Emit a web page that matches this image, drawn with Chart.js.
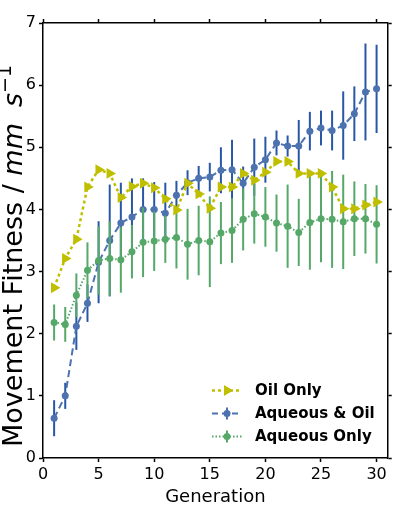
<!DOCTYPE html>
<html>
<head>
<meta charset="utf-8">
<script src="https://cdn.jsdelivr.net/npm/chart.js@4.4.1/dist/chart.umd.min.js"></script>
<style>
  html, body { margin: 0; padding: 0; background: #fff; }
  #wrap { width: 394px; height: 508px; }
</style>
</head>
<body>
<div id="wrap"><canvas id="fitChart" width="394" height="508"></canvas></div>
<script>
const generations = [1,2,3,4,5,6,7,8,9,10,11,12,13,14,15,16,17,18,19,20,21,22,23,24,25,26,27,28,29,30];
const oilOnly = [2.74,3.21,3.52,4.36,4.64,4.58,4.19,4.37,4.42,4.35,4.17,3.99,4.42,4.25,4.02,4.36,4.36,4.58,4.47,4.60,4.77,4.77,4.58,4.58,4.58,4.36,4.01,4.01,4.07,4.12];
const aqueousOil = [0.64,1.00,2.12,2.49,3.15,3.50,3.78,3.88,4.00,4.00,3.94,4.23,4.43,4.50,4.52,4.63,4.64,4.42,4.68,4.80,5.07,5.02,5.02,5.26,5.31,5.27,5.35,5.54,5.89,5.94];
const aqueousOilErr = [0.29,0.21,0.38,0.30,0.66,0.90,0.65,0.62,0.50,0.44,0.49,0.23,0.20,0.20,0.23,0.37,0.48,0.27,0.46,0.37,0.20,0.17,0.42,0.31,0.28,0.32,0.55,0.44,0.78,0.71];
const aqueousOnly = [2.18,2.15,2.62,3.02,3.18,3.21,3.19,3.32,3.47,3.49,3.52,3.55,3.44,3.50,3.48,3.62,3.66,3.84,3.93,3.88,3.78,3.73,3.63,3.79,3.85,3.84,3.80,3.85,3.85,3.76];
const aqueousOnlyErr = [0.29,0.28,0.35,0.45,0.55,0.60,0.53,0.43,0.56,0.48,0.38,0.50,0.57,0.56,0.73,0.50,0.52,0.50,0.48,0.48,0.46,0.67,0.54,0.76,0.70,0.78,0.76,0.60,0.56,0.63];
const xTicks = [0,5,10,15,20,25,30];
const seriesNames = ['Oil Only', 'Aqueous & Oil', 'Aqueous Only'];

const OIL = '#bfbf00', BLUE = '#4c72b0', GREEN = '#55a868';
const FONT = "'DejaVu Sans', sans-serif";

function pts(vals){ return generations.map((g, i) => ({ x: g, y: vals[i] })); }

// vertical error bars, drawn under each dataset's own line/markers
const errorBars = {
  id: 'errorBars',
  beforeDatasetDraw(chart, args) {
    const ds = chart.data.datasets[args.index];
    if (!ds.errors) return;
    const ctx = chart.ctx, x = chart.scales.x, y = chart.scales.y;
    ctx.save();
    ctx.strokeStyle = ds.errorColor || ds.borderColor;
    ctx.lineWidth = 2;
    ds.data.forEach((p, i) => {
      const e = ds.errors[i];
      const px = x.getPixelForValue(p.x);
      ctx.beginPath();
      ctx.moveTo(px, y.getPixelForValue(p.y - e));
      ctx.lineTo(px, y.getPixelForValue(p.y + e));
      ctx.stroke();
    });
    ctx.restore();
  }
};

// y label with the mathtext unit part
const yLabel = {
  id: 'yLabel',
  afterDraw(chart) {
    const ctx = chart.ctx;
    ctx.save();
    ctx.translate(22, 447);
    ctx.rotate(-Math.PI / 2);
    ctx.fillStyle = '#000';
    ctx.textBaseline = 'alphabetic';
    ctx.textAlign = 'left';
    let cx = 0;
    const part = (txt, font, dy) => {
      ctx.font = font;
      ctx.fillText(txt, cx, dy || 0);
      cx += ctx.measureText(txt).width;
    };
    part('Movement Fitness / ', '27px ' + FONT);
    part('mm', 'italic 27px ' + FONT);
    cx += 16;
    part('s', 'italic 27px ' + FONT);
    part('\u22121', '19px ' + FONT, -11);
    ctx.restore();
  }
};

// legend in the lower right of the plot
const legendBox = {
  id: 'legendBox',
  afterDraw(chart) {
    const ctx = chart.ctx;
    const rows = [
      { name: seriesNames[0], color: OIL, dash: [3, 3], width: 2.5, tri: true },
      { name: seriesNames[1], color: BLUE, dash: [6, 4], width: 2, tri: false },
      { name: seriesNames[2], color: GREEN, dash: [1.5, 2], width: 2, tri: false }
    ];
    const ys = [390.5, 413.5, 436.5];
    rows.forEach((r, i) => {
      const yy = ys[i];
      ctx.save();
      ctx.strokeStyle = r.color;
      ctx.lineWidth = r.width;
      ctx.setLineDash(r.dash);
      ctx.beginPath();
      ctx.moveTo(212, yy);
      ctx.lineTo(242, yy);
      ctx.stroke();
      ctx.setLineDash([]);
      ctx.fillStyle = r.color;
      if (r.tri) {
        Chart.helpers.drawPoint(ctx, { pointStyle: 'triangle', radius: 6, rotation: 90, borderWidth: 0 }, 227, yy);
        ctx.fill();
      } else {
        ctx.lineWidth = 2;
        ctx.beginPath();
        ctx.moveTo(227, yy - 6);
        ctx.lineTo(227, yy + 6);
        ctx.stroke();
        ctx.beginPath();
        ctx.arc(227, yy, 3.5, 0, Math.PI * 2);
        ctx.fill();
      }
      ctx.fillStyle = '#000';
      ctx.font = 'bold 15px ' + FONT;
      ctx.textBaseline = 'middle';
      ctx.fillText(r.name, 255, yy + 1);
      ctx.restore();
    });
  }
};

const axisGrid = { display: true, drawOnChartArea: false, drawTicks: true, tickLength: 4, tickWidth: 1.5, tickColor: '#000' };
const axisBorder = { display: true, color: '#000', width: 1.5 };
const setXTicks = s => { s.ticks = xTicks.map(v => ({ value: v })); };

new Chart(document.getElementById('fitChart').getContext('2d'), {
  type: 'line',
  data: {
    datasets: [
      {
        label: seriesNames[0], data: pts(oilOnly), order: 0,
        borderColor: OIL, backgroundColor: OIL, borderWidth: 2.5, borderDash: [3, 3],
        pointStyle: 'triangle', pointRotation: 90, pointRadius: 6.3, pointBorderWidth: 0,
        pointBackgroundColor: OIL, tension: 0, fill: false
      },
      {
        label: seriesNames[1], data: pts(aqueousOil), order: 2, errors: aqueousOilErr, errorColor: '#2857a6',
        borderColor: BLUE, backgroundColor: BLUE, borderWidth: 2, borderDash: [7, 4],
        pointStyle: 'circle', pointRadius: 3.5, pointBorderWidth: 0,
        pointBackgroundColor: BLUE, tension: 0, fill: false
      },
      {
        label: seriesNames[2], data: pts(aqueousOnly), order: 1, errors: aqueousOnlyErr,
        borderColor: GREEN, backgroundColor: GREEN, borderWidth: 2, borderDash: [1.5, 2],
        pointStyle: 'circle', pointRadius: 3.5, pointBorderWidth: 0,
        pointBackgroundColor: GREEN, tension: 0, fill: false
      }
    ]
  },
  options: {
    responsive: false,
    maintainAspectRatio: false,
    animation: false,
    devicePixelRatio: 1,
    layout: { padding: 0 },
    plugins: { legend: { display: false }, tooltip: { enabled: false } },
    scales: {
      x: {
        type: 'linear', position: 'bottom', min: 0, max: 31,
        afterBuildTicks: setXTicks,
        afterFit: s => { s.height = 50; },
        ticks: { color: '#000', font: { family: FONT, size: 16 }, padding: 3, maxRotation: 0 },
        grid: axisGrid, border: axisBorder,
        title: { display: true, text: 'Generation', color: '#000', font: { family: FONT, size: 18 }, padding: 0 }
      },
      xTop: {
        type: 'linear', position: 'top', min: 0, max: 31,
        afterBuildTicks: setXTicks,
        afterFit: s => { s.height = 23; },
        ticks: { display: false },
        grid: axisGrid, border: axisBorder
      },
      y: {
        type: 'linear', position: 'left', min: 0, max: 7,
        afterFit: s => { s.width = 43; },
        ticks: { stepSize: 1, color: '#000', font: { family: FONT, size: 16 }, padding: 3 },
        grid: axisGrid, border: axisBorder
      },
      yRight: {
        type: 'linear', position: 'right', min: 0, max: 7,
        afterFit: s => { s.width = 3; },
        ticks: { stepSize: 1, display: false },
        grid: axisGrid, border: axisBorder
      }
    }
  },
  plugins: [errorBars, yLabel, legendBox]
});
</script>
</body>
</html>
